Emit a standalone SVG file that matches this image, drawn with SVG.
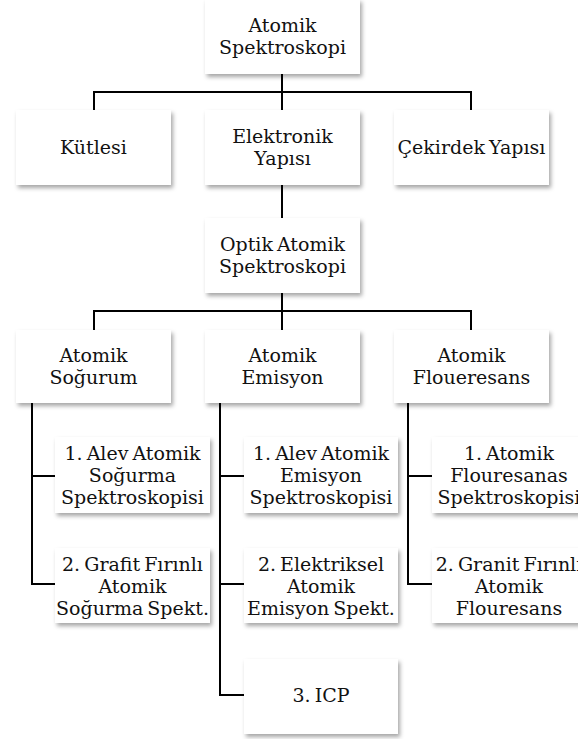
<svg xmlns="http://www.w3.org/2000/svg" width="578" height="739" viewBox="0 0 578 739">
<defs>
<filter id="sh" x="-10%" y="-10%" width="125%" height="130%">
<feDropShadow dx="2" dy="3" stdDeviation="2" flood-color="#000" flood-opacity="0.35"/>
</filter>
</defs>
<style>
.box{fill:#fff;filter:url(#sh);}
text{font-family:"DejaVu Serif","Liberation Serif",serif;font-size:19px;fill:#111;text-anchor:middle;word-spacing:-2px;}
.c{fill:none;stroke:#000;stroke-width:2;}
</style>
<rect width="578" height="739" fill="#fff"/>
<g id="connectors">
<path class="c" d="M282 74V92M94 110V92H471V110M282 92V110"/>
<path class="c" d="M282 185V218"/>
<path class="c" d="M282 293V311M94 330V311H471V330M282 311V330"/>
<path class="c" d="M32 403V584H55M32 476H55"/>
<path class="c" d="M220 403V695H244M220 476H244M220 584H244"/>
<path class="c" d="M408 403V584H432M408 476H432"/>
</g>
<g id="n-atomik-spektroskopi"><rect class="box" x="205" y="-1" width="155" height="75"/><text x="282.5" y="32">Atomik</text><text x="282.5" y="54">Spektroskopi</text></g>
<g id="n-kutlesi"><rect class="box" x="16" y="110" width="155" height="75"/><text x="93.5" y="154">Kütlesi</text></g>
<g id="n-elektronik"><rect class="box" x="205" y="110" width="155" height="75"/><text x="282.5" y="143">Elektronik</text><text x="282.5" y="165">Yapısı</text></g>
<g id="n-cekirdek"><rect class="box" x="394" y="110" width="155" height="75"/><text x="471.5" y="154">Çekirdek Yapısı</text></g>
<g id="n-optik"><rect class="box" x="205" y="218" width="155" height="75"/><text x="282.5" y="251">Optik Atomik</text><text x="282.5" y="273">Spektroskopi</text></g>
<g id="n-sogurum"><rect class="box" x="16" y="330" width="155" height="73"/><text x="93.5" y="362">Atomik</text><text x="93.5" y="384">Soğurum</text></g>
<g id="n-emisyon"><rect class="box" x="205" y="330" width="155" height="73"/><text x="282.5" y="362">Atomik</text><text x="282.5" y="384">Emisyon</text></g>
<g id="n-floueresans"><rect class="box" x="394" y="330" width="155" height="73"/><text x="471.5" y="362">Atomik</text><text x="471.5" y="384">Floueresans</text></g>
<g id="n-s1"><rect class="box" x="55" y="437" width="155" height="76"/><text x="132.5" y="460">1. Alev Atomik</text><text x="132.5" y="482">Soğurma</text><text x="132.5" y="504">Spektroskopisi</text></g>
<g id="n-s2"><rect class="box" x="55" y="548" width="155" height="75"/><text x="132.5" y="571">2. Grafit Fırınlı</text><text x="132.5" y="593">Atomik</text><text x="132.5" y="615">Soğurma Spekt.</text></g>
<g id="n-e1"><rect class="box" x="244" y="437" width="154" height="76"/><text x="321" y="460">1. Alev Atomik</text><text x="321" y="482">Emisyon</text><text x="321" y="504">Spektroskopisi</text></g>
<g id="n-e2"><rect class="box" x="244" y="548" width="154" height="75"/><text x="321" y="571">2. Elektriksel</text><text x="321" y="593">Atomik</text><text x="321" y="615">Emisyon Spekt.</text></g>
<g id="n-e3"><rect class="box" x="244" y="659" width="154" height="75"/><text x="321" y="702">3. ICP</text></g>
<g id="n-f1"><rect class="box" x="432" y="437" width="154" height="76"/><text x="509" y="460">1. Atomik</text><text x="509" y="482">Flouresanas</text><text x="509" y="504">Spektroskopisi</text></g>
<g id="n-f2"><rect class="box" x="432" y="548" width="154" height="75"/><text x="509" y="571">2. Granit Fırınlı</text><text x="509" y="593">Atomik</text><text x="509" y="615">Flouresans</text></g>
</svg>
